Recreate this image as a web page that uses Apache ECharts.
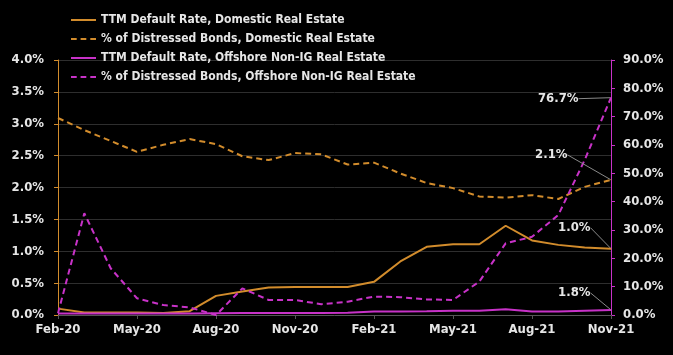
<!DOCTYPE html>
<html>
<head>
<meta charset="utf-8">
<script src="https://cdn.jsdelivr.net/npm/echarts@6/dist/echarts.min.js"></script>
<style>
html,body{margin:0;padding:0;background:#000;}
#chart{width:673px;height:355px;}
</style>
</head>
<body>
<div id="chart"></div>
<script>
// ---- data ----
var months = ['Feb-20','Mar-20','Apr-20','May-20','Jun-20','Jul-20','Aug-20','Sep-20','Oct-20','Nov-20','Dec-20','Jan-21',
              'Feb-21','Mar-21','Apr-21','May-21','Jun-21','Jul-21','Aug-21','Sep-21','Oct-21','Nov-21'];
var domesticDefault = [0.10,0.04,0.04,0.04,0.03,0.06,0.30,0.37,0.43,0.44,0.44,0.44,
                       0.52,0.84,1.07,1.11,1.11,1.40,1.17,1.10,1.06,1.04];
var domesticDistressed = [3.09,2.90,2.73,2.56,2.67,2.76,2.68,2.49,2.43,2.54,2.52,2.36,
                          2.39,2.22,2.07,1.99,1.86,1.84,1.88,1.82,2.01,2.12];
var offshoreDefault = [0.5,0.5,0.5,0.5,0.5,0.5,0.6,0.7,0.7,0.7,0.7,0.8,
                       1.2,1.2,1.3,1.5,1.5,2.0,1.2,1.2,1.5,1.8];
var offshoreDistressed = [0.6,35.9,16.5,5.9,3.5,2.7,0.0,9.4,5.3,5.3,3.8,4.7,
                          6.5,6.3,5.5,5.3,11.8,25.3,27.6,35.3,54.7,76.7];
var seriesNames = ['TTM Default Rate, Domestic Real Estate',
                   '% of Distressed Bonds, Domestic Real Estate',
                   'TTM Default Rate, Offshore Non-IG Real Estate',
                   '% of Distressed Bonds, Offshore Non-IG Real Estate'];
var endLabels = ['1.0%','2.1%','1.8%','76.7%'];

// ---- style ----
var ORANGE = '#D28C2C', MAGENTA = '#C832C8', TXT = '#e6e6e6';
var FONT = "'DejaVu Sans Condensed','DejaVu Sans',sans-serif";
var labelOffsets = [[-20,-21],[-43,-25],[-20,-17],[-32,1]];
var ICON_SOLID = 'path://M0,0H25V2H0Z';
var ICON_DASH = 'path://M0,0H5.7V2H0Z M9.6,0H15.3V2H9.6Z M19.3,0H25V2H19.3Z';

function withEndLabel(arr, si) {
  return arr.map(function (v, i) {
    if (i !== arr.length - 1) return v;
    return {
      value: v,
      symbol: 'circle',
      symbolSize: 1,
      label: {
        show: true, position: 'left', distance: 0,
        formatter: endLabels[si],
        color: TXT, fontFamily: FONT, fontWeight: 'bold', fontSize: 13
      },
      labelLine: { show: true, lineStyle: { color: '#8a8a8a', width: 1 } }
    };
  });
}
function mkLayout(si) {
  return function () {
    return { dx: labelOffsets[si][0], dy: labelOffsets[si][1] };
  };
}
function mkSeries(name, arr, si, color, dashed, yIdx) {
  return {
    name: name, type: 'line', yAxisIndex: yIdx,
    data: withEndLabel(arr, si),
    symbol: 'none', showSymbol: true,
    itemStyle: { color: color },
    lineStyle: { color: color, width: 2, type: dashed ? [6, 4] : 'solid' },
    labelLayout: mkLayout(si),
    z: 3
  };
}

var chart = echarts.init(document.getElementById('chart'));
chart.setOption({
  backgroundColor: '#000',
  animation: false,
  textStyle: { fontFamily: FONT },
  legend: {
    orient: 'vertical', left: 66, top: 9,
    itemWidth: 25, itemHeight: 10, itemGap: 7,
    textStyle: { color: TXT, fontFamily: FONT, fontWeight: 'bold', fontSize: 12 },
    data: [
      { name: seriesNames[0], icon: ICON_SOLID },
      { name: seriesNames[1], icon: ICON_DASH },
      { name: seriesNames[2], icon: ICON_SOLID },
      { name: seriesNames[3], icon: ICON_DASH }
    ]
  },
  grid: { left: 58, right: 62, top: 60, bottom: 40 },
  xAxis: {
    type: 'category', data: months, boundaryGap: false,
    axisLine: { lineStyle: { color: '#555' } },
    axisTick: { interval: 2, length: 4, lineStyle: { color: '#555' } },
    axisLabel: { interval: 2, color: TXT, fontFamily: FONT, fontWeight: 'bold', fontSize: 13, margin: 8 },
    splitLine: { show: false }
  },
  yAxis: [{
    type: 'value', min: 0, max: 4, interval: 0.5, position: 'left',
    axisLine: { show: true, lineStyle: { color: ORANGE } },
    axisTick: { show: true, length: 4, lineStyle: { color: ORANGE } },
    axisLabel: { color: TXT, fontFamily: FONT, fontWeight: 'bold', fontSize: 13, margin: 14,
                 formatter: function (v) { return v.toFixed(1) + '%'; } },
    splitLine: { show: true, lineStyle: { color: '#2e2e2e', width: 1 } }
  }, {
    type: 'value', min: 0, max: 90, interval: 10, position: 'right',
    axisLine: { show: true, lineStyle: { color: MAGENTA } },
    axisTick: { show: true, length: 4, lineStyle: { color: MAGENTA } },
    axisLabel: { color: TXT, fontFamily: FONT, fontWeight: 'bold', fontSize: 13, margin: 12,
                 formatter: function (v) { return v.toFixed(1) + '%'; } },
    splitLine: { show: false }
  }],
  series: [
    mkSeries(seriesNames[0], domesticDefault, 0, ORANGE, false, 0),
    mkSeries(seriesNames[1], domesticDistressed, 1, ORANGE, true, 0),
    mkSeries(seriesNames[2], offshoreDefault, 2, MAGENTA, false, 1),
    mkSeries(seriesNames[3], offshoreDistressed, 3, MAGENTA, true, 1)
  ]
});
</script>
</body>
</html>
